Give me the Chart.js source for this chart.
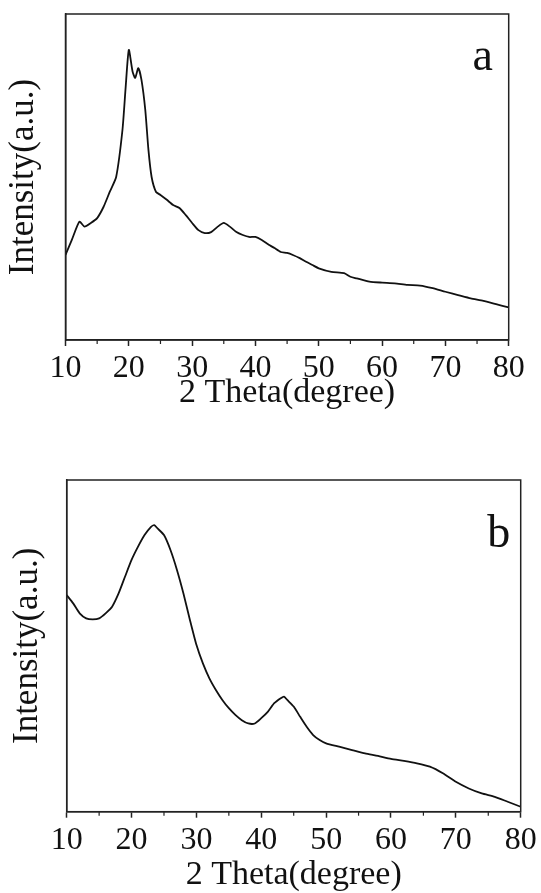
<!DOCTYPE html>
<html>
<head>
<meta charset="utf-8">
<script src="https://cdn.jsdelivr.net/npm/chart.js@4/dist/chart.umd.min.js"></script>
<style>
  body { margin: 0; background: #fff; }
  canvas { position: absolute; left: 0; }
  #chartA { top: 0; }
  #chartB { top: 440px; }
</style>
</head>
<body>
<canvas id="chartA" width="541" height="420"></canvas>
<canvas id="chartB" width="541" height="453"></canvas>
<script>
// XRD pattern (a)
var thetaA = [10, 11, 12.2, 13, 14, 15, 16, 17, 18, 19, 19.5, 20, 20.6, 21, 21.5, 22, 22.6, 23.1, 23.6, 24.3,
  25, 26, 27, 28, 29, 30, 31, 32, 33, 34, 35, 36, 37, 38, 39, 40, 41, 42, 43, 44, 45, 46, 47, 48, 49, 50,
  52, 54, 55, 56, 58, 60, 62, 64, 66, 68, 70, 72, 74, 76, 78, 80];
var intensityA = [26.1, 30.7, 36.3, 34.8, 35.9, 37.4, 40.8, 45.5, 50, 64.5, 77.5, 89, 82.3, 80.4, 83.4, 79.8, 70.6, 58.3, 50, 45.4,
  44.5, 43, 41.4, 40.5, 38.3, 35.9, 33.7, 32.8, 33.1, 34.7, 35.9, 34.7, 33.1, 32.2, 31.6, 31.6, 30.7, 29.4, 28.2, 27, 26.7, 26, 25.1, 24, 23, 22,
  20.9, 20.5, 19.4, 18.9, 17.9, 17.6, 17.4, 16.9, 16.7, 15.9, 14.8, 13.8, 12.8, 12, 11, 10];

// XRD pattern (b)
var thetaB = [10, 11, 12, 13, 14, 15, 16, 17, 18, 19, 20, 21, 22, 23, 23.5, 24, 25, 26, 27, 28, 29, 30, 31, 32, 33,
  34, 35, 36, 37, 38, 39, 40, 41, 42, 43, 43.5, 44, 45, 46, 47, 48, 49, 50,
  52, 54, 56, 58, 60, 62, 64, 66, 68, 70, 72, 74, 76, 78, 80];
var intensityB = [65.3, 62.8, 59.8, 58.3, 58, 58.3, 59.8, 61.8, 65.8, 70.9, 75.9, 79.9, 83.4, 85.9, 86.4, 85.4, 83.4, 78.9, 72.9, 65.8, 57.8, 50.3, 44.7, 40.2, 36.7,
  33.7, 31.2, 29.2, 27.6, 26.6, 26.6, 28.2, 30.1, 32.7, 34.2, 34.7, 33.7, 31.7, 28.6, 25.6, 23.1, 21.6, 20.6,
  19.6, 18.6, 17.6, 16.8, 15.9, 15.3, 14.6, 13.6, 11.6, 9, 7, 5.5, 4.5, 3, 1.5];

var xTicks = [10, 20, 30, 40, 50, 60, 70, 80];
var minorTicks = [15, 25, 35, 45, 55, 65, 75];
var xTitle = '2 Theta(degree)';
var yTitle = 'Intensity(a.u.)';
var panelLabels = ['a', 'b'];

var serif = "'Liberation Serif', 'DejaVu Serif', serif";

function points(xs, ys) {
  var out = [];
  for (let i = 0; i < xs.length; i++) {
    out.push({x: xs[i], y: ys[i]});
  }
  return out;
}

// frame, minor ticks and the panel letter
var framePlugin = {
  id: 'frame',
  afterDraw: function(chart, args, opts) {
    var ctx = chart.ctx;
    var a = chart.chartArea;
    var xs = chart.scales.x;
    ctx.save();
    ctx.strokeStyle = '#222';
    ctx.lineWidth = 1.5;
    ctx.strokeRect(a.left, a.top, a.right - a.left, a.bottom - a.top);
    ctx.lineWidth = 1.2;
    minorTicks.forEach(function(v) {
      var px = xs.getPixelForValue(v);
      ctx.beginPath();
      ctx.moveTo(px, a.bottom);
      ctx.lineTo(px, a.bottom + 4);
      ctx.stroke();
    });
    ctx.fillStyle = '#111';
    ctx.font = '46px ' + serif;
    ctx.textAlign = 'center';
    ctx.textBaseline = 'alphabetic';
    ctx.fillText(opts.label, a.right - opts.dx, a.top + opts.dy);
    ctx.restore();
  }
};

function makeChart(id, xs, ys, o) {
  return new Chart(document.getElementById(id), {
    type: 'line',
    data: {
      datasets: [{
        data: points(xs, ys),
        borderColor: '#111',
        borderWidth: 1.8,
        pointRadius: 0,
        tension: 0.2,
        fill: false
      }]
    },
    options: {
      responsive: false,
      animation: false,
      layout: { padding: { top: o.padTop, right: o.padRight, left: 0, bottom: 0 } },
      plugins: {
        legend: { display: false },
        tooltip: { enabled: false },
        frame: { label: o.label, dx: o.dx, dy: o.dy }
      },
      scales: {
        x: {
          type: 'linear',
          min: 10,
          max: 80,
          afterBuildTicks: function(s) { s.ticks = xTicks.map(function(v) { return {value: v}; }); },
          afterFit: function(s) { s.height = o.xHeight; },
          ticks: { color: '#111', font: { family: serif, size: 32 }, padding: o.tickPad, maxRotation: 0, autoSkip: false },
          grid: { drawOnChartArea: false, tickLength: 6, tickColor: '#222', tickWidth: 1.5 },
          border: { display: true, color: '#222', width: 1.5 },
          title: { display: true, text: xTitle, color: '#111', font: { family: serif, size: 34, lineHeight: 1 }, padding: { top: 0, bottom: o.xTitlePad } }
        },
        y: {
          min: 0,
          max: 100,
          afterFit: function(s) { s.width = o.yWidth; },
          ticks: { display: false },
          grid: { display: false, drawTicks: false },
          border: { display: true, color: '#222', width: 1.5 },
          title: { display: true, text: yTitle, color: '#111', font: { family: serif, size: 35, lineHeight: 1 }, padding: { top: o.yTitlePad, bottom: 0 } }
        }
      }
    },
    plugins: [framePlugin]
  });
}

makeChart('chartA', thetaA, intensityA, {
  padTop: 14, padRight: 32.3, xHeight: 80, yWidth: 65.5, tickPad: 3, xTitlePad: 9.5, yTitlePad: 6,
  label: panelLabels[0], dx: 26, dy: 56
});

makeChart('chartB', thetaB, intensityB, {
  padTop: 40, padRight: 20.3, xHeight: 81.3, yWidth: 66.7, tickPad: 4, xTitlePad: 1, yTitlePad: 10,
  label: panelLabels[1], dx: 22, dy: 67
});
</script>
</body>
</html>
